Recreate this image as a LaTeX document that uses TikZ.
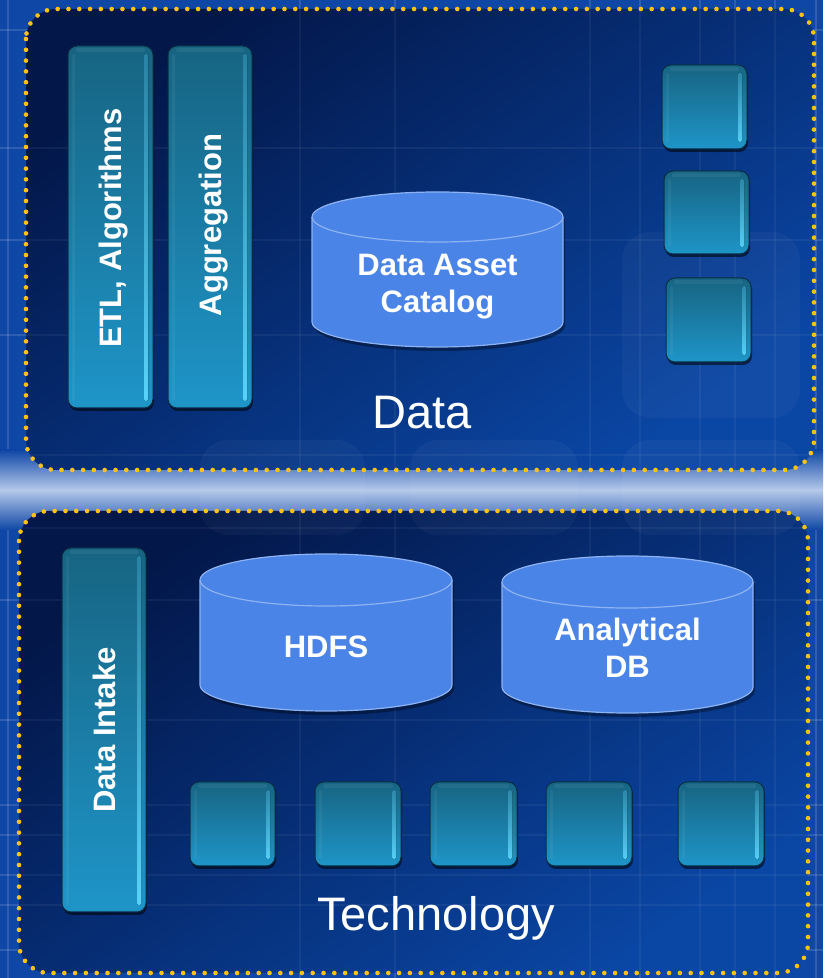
\documentclass[tikz,border=0pt]{standalone}
\usepackage{fontspec}
\setmainfont{Liberation Sans}
\usetikzlibrary{shadows}

\definecolor{bgBlue}{HTML}{0F47A6}
\definecolor{bgLight}{HTML}{B4C8EA}
\definecolor{boxDark}{HTML}{031749}
\definecolor{boxLight}{HTML}{0A46A4}
\definecolor{gold}{HTML}{FFC20E}
\definecolor{glassTop}{HTML}{176482}
\definecolor{glassBot}{HTML}{1E95C8}
\definecolor{glassEdge}{HTML}{0A2E44}
\definecolor{glassHi}{HTML}{5AD4FC}
\definecolor{cylFill}{HTML}{4A84E6}
\definecolor{cylEdge}{HTML}{8DB3F2}

% database cylinder: centre x, top-ellipse y, bottom-ellipse y, x radius, y radius
\newcommand\dbcyl[5]{%
  \fill[black, opacity=.35]
    (#1-#4+2,#2-4) -- (#1-#4+2,#3-4) arc[start angle=180,end angle=360,x radius=#4pt,y radius=#5pt]
    -- (#1+#4+2,#2-4) arc[start angle=0,end angle=180,x radius=#4pt,y radius=#5pt] -- cycle;
  \filldraw[fill=cylFill, draw=cylEdge, line width=1.2pt]
    (#1-#4,#2) -- (#1-#4,#3) arc[start angle=180,end angle=360,x radius=#4pt,y radius=#5pt]
    -- (#1+#4,#2) arc[start angle=0,end angle=180,x radius=#4pt,y radius=#5pt] -- cycle;
  \draw[cylEdge, line width=1.2pt]
    (#1-#4,#2) arc[start angle=180,end angle=360,x radius=#4pt,y radius=#5pt];
}

\begin{document}
\begin{tikzpicture}[x=1pt,y=1pt,
  frame/.style={draw=gold, line width=4.6pt, line cap=round,
    dash pattern=on 0pt off 10.8pt, rounded corners=30pt},
  panel/.style={top color=boxDark, bottom color=boxLight, shading angle=35,
    rounded corners=30pt},
  glass/.style={rectangle, rounded corners=9pt, draw=glassEdge, line width=1pt,
    top color=glassTop, bottom color=glassBot, inner sep=0pt,
    drop shadow={shadow xshift=1pt, shadow yshift=-3pt, fill=black, opacity=.55},
    path picture={
      \fill[top color=glassHi!25!glassTop, bottom color=glassHi, rounded corners=1.5pt]
        ([xshift=-9pt,yshift=-8pt]path picture bounding box.north east) rectangle
        ([xshift=-5pt,yshift=7pt]path picture bounding box.south east);
      \fill[white, opacity=.05, rounded corners=1.5pt]
        ([xshift=4pt,yshift=-8pt]path picture bounding box.north west) rectangle
        ([xshift=7pt,yshift=7pt]path picture bounding box.south west);
      \fill[white, opacity=.06, rounded corners=1.5pt]
        ([xshift=8pt,yshift=-2pt]path picture bounding box.north west) rectangle
        ([xshift=-8pt,yshift=-6pt]path picture bounding box.north east);
    }},
  barlabel/.style={text=white, font=\fontsize{31}{37}\selectfont\bfseries,
    rotate=90, anchor=base, inner sep=0pt},
  cyltext/.style={text=white, font=\fontsize{31}{37}\selectfont\bfseries,
    align=center, inner sep=0pt},
  title/.style={text=white, font=\fontsize{47}{52}\selectfont, anchor=base, inner sep=0pt},
  gridline/.style={white, opacity=.13, line width=1.3pt},
  faintline/.style={white, opacity=.05, line width=1.3pt},
  haze/.style={fill=white, opacity=.035, rounded corners=28pt}
]
\useasboundingbox (0,0) rectangle (823,978);

% backdrop with its grid and the light band between the two panels
\fill[bgBlue] (0,0) rectangle (823,978);
\foreach \y in {30,148,240,335,455,528,600,720,805,835,875,905,950}
  \draw[gridline] (0,978-\y) -- (823,978-\y);
\foreach \x in {8,300,395,590,640,700,735,775,816}
  \draw[gridline] (\x,0) -- (\x,978);
\shade[top color=bgBlue, bottom color=bgBlue, middle color=bgLight] (0,528) rectangle (823,448);

% panels
\path[panel] (26,969) rectangle (814,508);
\path[panel] (19,467) rectangle (808,5);

% faint grid and soft shapes seen through the panels
\begin{scope}
  \clip[rounded corners=30pt] (26,969) rectangle (814,508) (19,467) rectangle (808,5);
  \foreach \y in {148,240,335,455,528,600,720,805,835,875,905}
    \draw[faintline] (0,978-\y) -- (823,978-\y);
  \foreach \x in {300,395,590,640,700,735,775}
    \draw[faintline] (\x,0) -- (\x,978);
\end{scope}
\fill[haze] (622,746) rectangle (800,560);
\fill[haze] (200,538) rectangle (365,443);
\fill[haze] (410,538) rectangle (578,443);
\fill[haze] (622,538) rectangle (800,443);

% dotted panel outlines
\draw[frame] (26,969) rectangle (814,508);
\draw[frame] (19,467) rectangle (808,5);

% ---------------- Data panel ----------------
\node[glass, minimum width=85pt, minimum height=362pt] (etl) at (110.5,751) {};
\node[barlabel] (etlText) at (121,750) {ETL, Algorithms};
\node[glass, minimum width=84pt, minimum height=362pt] (agg) at (210,751) {};
\node[barlabel] (aggText) at (221,753) {Aggregation};

\node[glass, minimum width=85pt, minimum height=84pt] (ds1) at (704.5,871) {};
\node[glass, minimum width=85pt, minimum height=83pt] (ds2) at (706.5,765.5) {};
\node[glass, minimum width=85pt, minimum height=84pt] (ds3) at (708.5,658) {};

\dbcyl{437.5}{761}{656}{125.5}{25}
\node[cyltext] (catalog) at (437.5,691) {Data Asset\\Catalog};

\node[title] (dataTitle) at (422,549) {Data};

% ---------------- Technology panel ----------------
\node[glass, minimum width=84pt, minimum height=364pt] (intake) at (104,248) {};
\node[barlabel] (intakeText) at (115,248) {Data Intake};

\dbcyl{326}{398}{293}{126}{26}
\node[cyltext, anchor=base] (hdfs) at (326,320) {HDFS};
\dbcyl{627.5}{396}{291}{125.5}{26}
\node[cyltext] (adb) at (627.5,330) {Analytical\\DB};

\node[glass, minimum width=85pt, minimum height=84pt] (ts1) at (232.5,154) {};
\node[glass, minimum width=86pt, minimum height=84pt] (ts2) at (358,154) {};
\node[glass, minimum width=87pt, minimum height=84pt] (ts3) at (473.5,154) {};
\node[glass, minimum width=86pt, minimum height=84pt] (ts4) at (589,154) {};
\node[glass, minimum width=86pt, minimum height=84pt] (ts5) at (721,154) {};

\node[title] (techTitle) at (436,47) {Technology};
\end{tikzpicture}
\end{document}
